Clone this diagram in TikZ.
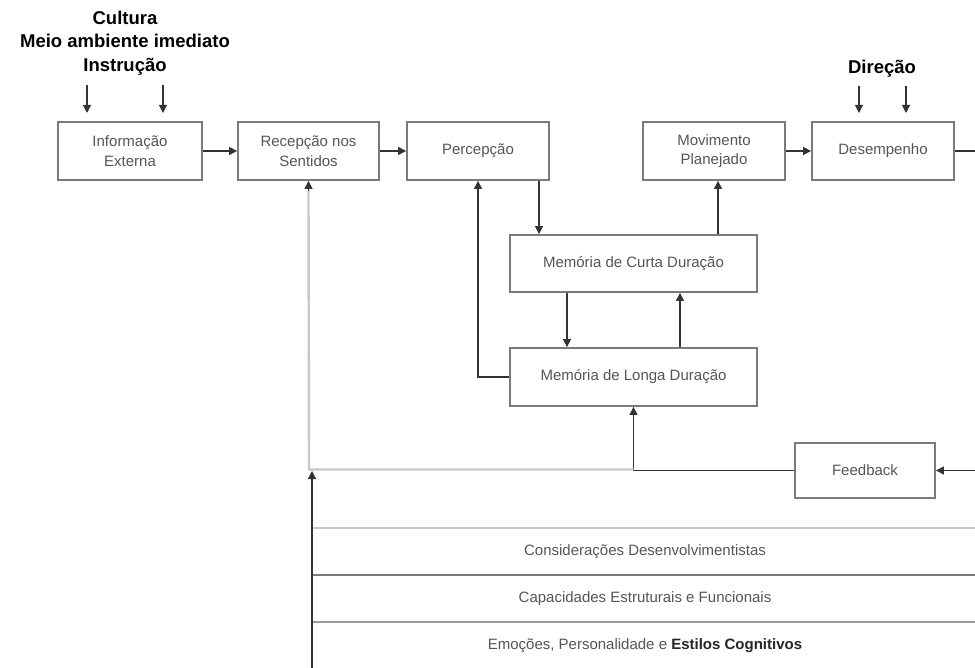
\documentclass[tikz,border=0pt]{standalone}
\usepackage{fontspec}
\setmainfont{Liberation Sans}
\usetikzlibrary{arrows.meta,calc}
\definecolor{boxline}{HTML}{7A7A7A}
\definecolor{boxtext}{HTML}{555555}
\definecolor{conn}{HTML}{333333}
\definecolor{lightline}{HTML}{C8C8C8}
\definecolor{midline}{HTML}{999999}
\tikzset{
  blk/.style={draw=boxline, line width=1.8pt, fill=white, rectangle, inner sep=2pt,
    text=boxtext, align=center, font=\fontsize{15}{19.5}\selectfont},
  cn/.style={draw=conn, line width=1.1pt, -{Triangle[length=8pt,width=8pt]}},
  plainln/.style={draw=conn, line width=1.1pt},
  grayln/.style={draw=lightline, line width=2.4pt},
  toplbl/.style={font=\fontsize{18.5}{23.5}\selectfont\bfseries, align=center, text=black},
  botlbl/.style={font=\fontsize{15}{19}\selectfont, text=boxtext},
}
\begin{document}
\begin{tikzpicture}[x=1pt,y=-1pt]
\useasboundingbox (0,0) rectangle (975,668);
\fill[white] (0,0) rectangle (975,668);

% top labels
\node[toplbl] (ctx) at (125,43) {Cultura\\Meio ambiente imediato\\Instrução};
\node[toplbl] (dir) at (882,69) {Direção};

% main boxes
\node[blk, minimum width=144, minimum height=58] (info) at (130,151) {Informação\\Externa};
\node[blk, minimum width=141, minimum height=58] (recep) at (308.5,151) {Recepção nos\\Sentidos};
\node[blk, minimum width=142, minimum height=58] (percep) at (478,151) {Percepção};
\node[blk, minimum width=142, minimum height=58] (mov) at (714,151) {Movimento\\Planejado};
\node[blk, minimum width=142, minimum height=58] (desemp) at (883,151) {Desempenho};
\node[blk, minimum width=247, minimum height=57] (curta) at (633.5,263.5) {Memória de Curta Duração};
\node[blk, minimum width=247, minimum height=58] (longa) at (633.5,377) {Memória de Longa Duração};
\node[blk, minimum width=140, minimum height=55] (fb) at (865,470.5) {Feedback};

% free-end coordinates
\coordinate (a1s) at (87,85);   \coordinate (a1e) at (87,113);
\coordinate (a2s) at (163,85);  \coordinate (a2e) at (163,113);
\coordinate (d1s) at (859,86);  \coordinate (d1e) at (859,113);
\coordinate (d2s) at (906,86);  \coordinate (d2e) at (906,113);
\coordinate (redge1) at (975,151);
\coordinate (redge2) at (975,470.5);
\coordinate (gj) at (309,469.5);
\coordinate (gk) at (633.5,469.5);
\coordinate (bot) at (312,668);
\coordinate (bj) at (312,471);
\coordinate (l1a) at (312,528); \coordinate (l1b) at (975,528);
\coordinate (l2a) at (312,575); \coordinate (l2b) at (975,575);
\coordinate (l3a) at (312,622); \coordinate (l3b) at (975,622);

% arrows from labels
\draw[cn] (a1s) -- (a1e);
\draw[cn] (a2s) -- (a2e);
\draw[cn] (d1s) -- (d1e);
\draw[cn] (d2s) -- (d2e);

% main flow
\draw[cn] (info.east) -- (recep.west);
\draw[cn] (recep.east) -- (percep.west);
\draw[cn] (mov.east) -- (desemp.west);
\draw[plainln] (desemp.east) -- (redge1);
\draw[cn] (redge2) -- (fb.east);
\draw[cn] (fb.west) -| (longa.south);

% memory links
\draw[cn] ([xshift=61pt]percep.south) -- ([xshift=61pt]percep.south |- curta.north);
\draw[cn] ([xshift=4pt]mov.south |- curta.north) -- ([xshift=4pt]mov.south);
\draw[cn] ([xshift=-66.5pt]curta.south) -- ([xshift=-66.5pt]curta.south |- longa.north);
\draw[cn] ([xshift=46.5pt]longa.north) -- ([xshift=46.5pt]longa.north |- curta.south);
\draw[cn] (longa.west) -| (percep.south);

% gray feedback to reception
\draw[grayln] (gk) -- (gj) -- ([yshift=-9pt]recep.south);
\draw[cn] ([yshift=-10pt]recep.south) -- (recep.south);

% bottom lines
\draw[draw=lightline, line width=2.6pt] (l1a) -- (l1b);
\draw[draw=midline!80!black, line width=1.4pt] (l2a) -- (l2b);
\draw[draw=midline, line width=2.6pt] (l3a) -- (l3b);
\draw[cn] (bot) -- (bj);

% bottom texts
\node[botlbl] (t1) at (645,552) {Considerações Desenvolvimentistas};
\node[botlbl] (t2) at (645,599) {Capacidades Estruturais e Funcionais};
\node[botlbl] (t3) at (645,646) {Emoções, Personalidade e {\bfseries\color{black!85}Estilos Cognitivos}};
\end{tikzpicture}
\end{document}
